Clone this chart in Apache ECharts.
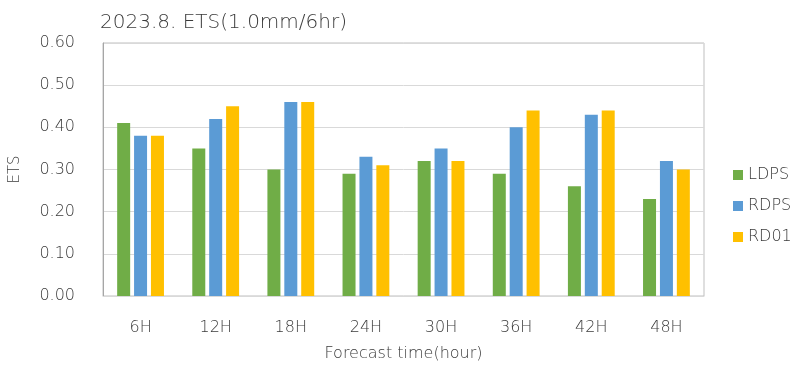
<!DOCTYPE html>
<html>
<head>
<meta charset="utf-8">
<script src="https://cdn.jsdelivr.net/npm/echarts@6/dist/echarts.min.js"></script>
<style>
  html, body { margin: 0; padding: 0; background: #fff; }
  #chart { width: 798px; height: 367px; }
</style>
</head>
<body>
<div id="chart"></div>
<script>
// Forecast lead times
const categories = ['6H', '12H', '18H', '24H', '30H', '36H', '42H', '48H'];
// ETS scores per model
const ldps = [0.41, 0.35, 0.30, 0.29, 0.32, 0.29, 0.26, 0.23];
const rdps = [0.38, 0.42, 0.46, 0.33, 0.35, 0.40, 0.43, 0.32];
const rd01 = [0.38, 0.45, 0.46, 0.31, 0.32, 0.44, 0.44, 0.30];
const yTicks = [0, 0.1, 0.2, 0.3, 0.4, 0.5, 0.6];

const textColor = '#3a3a3a';
const font = 'DejaVu Sans';
const weight = 300;

const chart = echarts.init(document.getElementById('chart'));
chart.setOption({
  animation: false,
  title: {
    text: '2023.8. ETS(1.0mm/6hr)',
    left: 95, top: 8,
    textStyle: { fontFamily: font, fontSize: 20, fontWeight: weight, color: textColor }
  },
  grid: { left: 103, right: 94, top: 43, bottom: 71, containLabel: false, show: true, borderColor: '#bfbfbf', borderWidth: 1 },
  legend: {
    orient: 'vertical',
    left: 728, top: 162,
    itemWidth: 10, itemHeight: 10, itemGap: 15,
    icon: 'rect',
    textStyle: { fontFamily: font, fontSize: 16, fontWeight: weight, color: textColor },
    data: ['LDPS', 'RDPS', 'RD01']
  },
  xAxis: {
    type: 'category',
    data: categories,
    name: 'Forecast time(hour)',
    nameLocation: 'middle',
    nameGap: 50,
    nameTextStyle: { fontFamily: font, fontSize: 16, fontWeight: weight, color: textColor },
    axisLine: { lineStyle: { color: '#d9d9d9', width: 1 } },
    axisTick: { show: false },
    axisLabel: { fontFamily: font, fontSize: 16, fontWeight: weight, color: textColor, margin: 24 }
  },
  yAxis: {
    type: 'value',
    min: yTicks[0], max: yTicks[yTicks.length - 1], interval: 0.1,
    name: 'ETS',
    nameLocation: 'middle',
    nameGap: 80,
    nameRotate: 90,
    nameTextStyle: { fontFamily: font, fontSize: 15, fontWeight: weight, color: textColor },
    axisLine: { show: true, lineStyle: { color: '#a6a6a6', width: 1 } },
    axisTick: { show: false },
    splitLine: { lineStyle: { color: '#d9d9d9', width: 1 } },
    axisLabel: { fontFamily: font, fontSize: 16, fontWeight: weight, color: textColor, margin: 28, formatter: v => v.toFixed(2) }
  },
  series: [
    { name: 'LDPS', type: 'bar', data: ldps, barWidth: 13, barGap: '30%', itemStyle: { color: '#70ad47' } },
    { name: 'RDPS', type: 'bar', data: rdps, barWidth: 13, barGap: '30%', itemStyle: { color: '#5b9bd5' } },
    { name: 'RD01', type: 'bar', data: rd01, barWidth: 13, barGap: '30%', itemStyle: { color: '#ffc000' } }
  ]
});
</script>
</body>
</html>
